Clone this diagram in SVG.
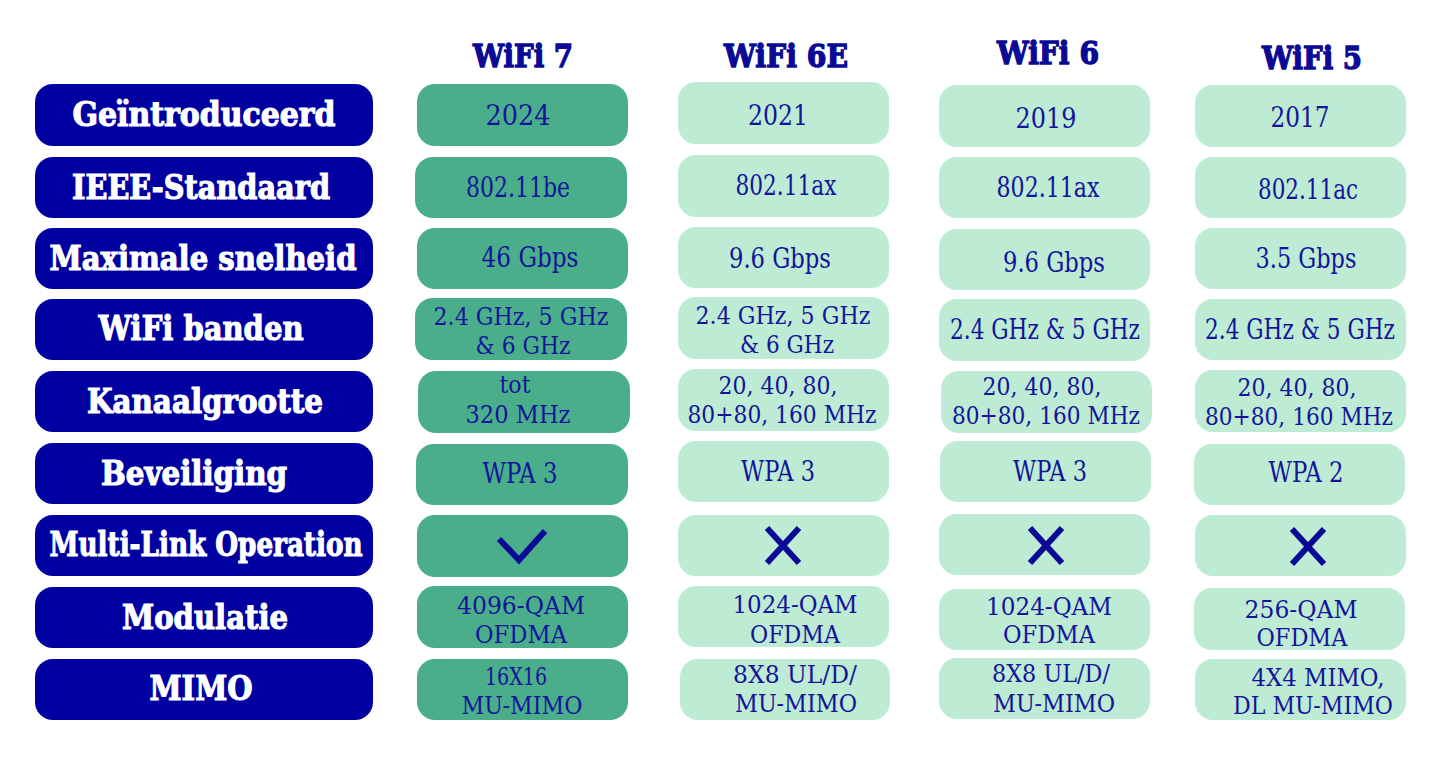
<svg xmlns="http://www.w3.org/2000/svg" width="1440" height="769" viewBox="0 0 1440 769">
<style>
.lbl{fill:#0000a0}
.dk{fill:#4aae8a}
.lt{fill:#bdebd4}
.ht{font-family:"DejaVu Serif","Liberation Serif",serif;font-weight:bold;font-size:32px;fill:#0a0a96;stroke:#0a0a96;stroke-width:1.4;text-anchor:middle}
.lt-t{font-family:"DejaVu Serif","Liberation Serif",serif;font-weight:bold;font-size:33px;fill:#ffffff;stroke:#ffffff;stroke-width:1.2;text-anchor:middle}
.v{font-family:"DejaVu Serif","Liberation Serif",serif;font-size:27px;fill:#14149a;text-anchor:middle}
.v2{font-family:"DejaVu Serif","Liberation Serif",serif;font-size:25px;fill:#14149a;text-anchor:middle}
.mk{stroke:#0a0a96;stroke-width:6;fill:none}
</style>
<rect width="1440" height="769" fill="#ffffff"/>
<g id="headers">
<text class="ht" x="523" y="67" textLength="100" lengthAdjust="spacingAndGlyphs">WiFi 7</text>
<text class="ht" x="786" y="67" textLength="124" lengthAdjust="spacingAndGlyphs">WiFi 6E</text>
<text class="ht" x="1048" y="64" textLength="102" lengthAdjust="spacingAndGlyphs">WiFi 6</text>
<text class="ht" x="1312" y="69" textLength="100" lengthAdjust="spacingAndGlyphs">WiFi 5</text>
</g>
<g id="labels">
<g id="lbl-1"><rect class="lbl" x="35" y="84" width="338" height="62" rx="18"/><text class="lt-t" x="204" y="126" textLength="263" lengthAdjust="spacingAndGlyphs">Geïntroduceerd</text></g>
<g id="lbl-2"><rect class="lbl" x="35" y="157" width="338" height="61" rx="18"/><text class="lt-t" x="201" y="199" textLength="258" lengthAdjust="spacingAndGlyphs">IEEE-Standaard</text></g>
<g id="lbl-3"><rect class="lbl" x="35" y="228" width="338" height="61" rx="18"/><text class="lt-t" x="203" y="270" textLength="307" lengthAdjust="spacingAndGlyphs">Maximale snelheid</text></g>
<g id="lbl-4"><rect class="lbl" x="35" y="299" width="338" height="61" rx="18"/><text class="lt-t" x="201" y="340" textLength="205" lengthAdjust="spacingAndGlyphs">WiFi banden</text></g>
<g id="lbl-5"><rect class="lbl" x="35" y="371" width="338" height="61" rx="18"/><text class="lt-t" x="205" y="413" textLength="236" lengthAdjust="spacingAndGlyphs">Kanaalgrootte</text></g>
<g id="lbl-6"><rect class="lbl" x="35" y="443" width="338" height="61" rx="18"/><text class="lt-t" x="194" y="485" textLength="186" lengthAdjust="spacingAndGlyphs">Beveiliging</text></g>
<g id="lbl-7"><rect class="lbl" x="35" y="515" width="338" height="61" rx="18"/><text class="lt-t" x="206" y="556" textLength="313" lengthAdjust="spacingAndGlyphs">Multi-Link Operation</text></g>
<g id="lbl-8"><rect class="lbl" x="35" y="587" width="338" height="61" rx="18"/><text class="lt-t" x="205" y="629" textLength="166" lengthAdjust="spacingAndGlyphs">Modulatie</text></g>
<g id="lbl-9"><rect class="lbl" x="35" y="659" width="338" height="61" rx="18"/><text class="lt-t" x="201" y="700" textLength="103" lengthAdjust="spacingAndGlyphs">MIMO</text></g>
</g>
<g id="wifi7">
<g id="w7-1"><rect class="dk" x="417" y="84" width="211" height="62" rx="18"/><text class="v" x="518" y="125" textLength="65" lengthAdjust="spacingAndGlyphs">2024</text></g>
<g id="w7-2"><rect class="dk" x="415" y="157" width="212" height="61" rx="18"/><text class="v" x="518" y="197" textLength="104" lengthAdjust="spacingAndGlyphs">802.11be</text></g>
<g id="w7-3"><rect class="dk" x="417" y="228" width="211" height="61" rx="18"/><text class="v" x="530" y="267" textLength="97" lengthAdjust="spacingAndGlyphs">46 Gbps</text></g>
<g id="w7-4"><rect class="dk" x="415" y="298" width="212" height="62" rx="18"/><text class="v2" x="521" y="325" textLength="175" lengthAdjust="spacingAndGlyphs">2.4 GHz, 5 GHz</text><text class="v2" x="523" y="354" textLength="95" lengthAdjust="spacingAndGlyphs">&amp; 6 GHz</text></g>
<g id="w7-5"><rect class="dk" x="418" y="371" width="212" height="62" rx="18"/><text class="v2" x="515" y="393" textLength="31" lengthAdjust="spacingAndGlyphs">tot</text><text class="v2" x="518" y="423" textLength="105" lengthAdjust="spacingAndGlyphs">320 MHz</text></g>
<g id="w7-6"><rect class="dk" x="416" y="444" width="212" height="61" rx="18"/><text class="v" x="520" y="483" textLength="75" lengthAdjust="spacingAndGlyphs">WPA 3</text></g>
<g id="w7-7"><rect class="dk" x="417" y="515" width="211" height="62" rx="18"/><path class="mk" d="M499 539 L519 560 L545 531"/></g>
<g id="w7-8"><rect class="dk" x="417" y="586" width="211" height="62" rx="18"/><text class="v2" x="521" y="614" textLength="128" lengthAdjust="spacingAndGlyphs">4096-QAM</text><text class="v2" x="521" y="643" textLength="92" lengthAdjust="spacingAndGlyphs">OFDMA</text></g>
<g id="w7-9"><rect class="dk" x="417" y="659" width="211" height="61" rx="18"/><text class="v2" x="516" y="685" textLength="62" lengthAdjust="spacingAndGlyphs">16X16</text><text class="v2" x="522" y="714" textLength="121" lengthAdjust="spacingAndGlyphs">MU-MIMO</text></g>
</g>
<g id="wifi6e">
<g id="w6e-1"><rect class="lt" x="678" y="82" width="211" height="62" rx="18"/><text class="v" x="778" y="125" textLength="60" lengthAdjust="spacingAndGlyphs">2021</text></g>
<g id="w6e-2"><rect class="lt" x="678" y="155" width="211" height="62" rx="18"/><text class="v" x="786" y="195" textLength="101" lengthAdjust="spacingAndGlyphs">802.11ax</text></g>
<g id="w6e-3"><rect class="lt" x="678" y="227" width="211" height="61" rx="18"/><text class="v" x="780" y="268" textLength="102" lengthAdjust="spacingAndGlyphs">9.6 Gbps</text></g>
<g id="w6e-4"><rect class="lt" x="678" y="297" width="211" height="62" rx="18"/><text class="v2" x="783" y="324" textLength="175" lengthAdjust="spacingAndGlyphs">2.4 GHz, 5 GHz</text><text class="v2" x="787" y="353" textLength="94" lengthAdjust="spacingAndGlyphs">&amp; 6 GHz</text></g>
<g id="w6e-5"><rect class="lt" x="678" y="369" width="211" height="62" rx="18"/><text class="v2" x="778" y="394" textLength="119" lengthAdjust="spacingAndGlyphs">20, 40, 80,</text><text class="v2" x="782" y="423" textLength="189" lengthAdjust="spacingAndGlyphs">80+80, 160 MHz</text></g>
<g id="w6e-6"><rect class="lt" x="678" y="441" width="211" height="61" rx="18"/><text class="v" x="778" y="481" textLength="74" lengthAdjust="spacingAndGlyphs">WPA 3</text></g>
<g id="w6e-7"><rect class="lt" x="678" y="515" width="211" height="61" rx="18"/><path class="mk" d="M767 528 L799 563 M799 528 L767 563"/></g>
<g id="w6e-8"><rect class="lt" x="678" y="586" width="211" height="61" rx="18"/><text class="v2" x="795" y="613" textLength="125" lengthAdjust="spacingAndGlyphs">1024-QAM</text><text class="v2" x="795" y="643" textLength="90" lengthAdjust="spacingAndGlyphs">OFDMA</text></g>
<g id="w6e-9"><rect class="lt" x="680" y="659" width="210" height="61" rx="18"/><text class="v2" x="795" y="683" textLength="124" lengthAdjust="spacingAndGlyphs">8X8 UL/D/</text><text class="v2" x="796" y="712" textLength="122" lengthAdjust="spacingAndGlyphs">MU-MIMO</text></g>
</g>
<g id="wifi6">
<g id="w6-1"><rect class="lt" x="939" y="85" width="211" height="62" rx="18"/><text class="v" x="1046" y="128" textLength="61" lengthAdjust="spacingAndGlyphs">2019</text></g>
<g id="w6-2"><rect class="lt" x="939" y="157" width="211" height="61" rx="18"/><text class="v" x="1048" y="197" textLength="103" lengthAdjust="spacingAndGlyphs">802.11ax</text></g>
<g id="w6-3"><rect class="lt" x="939" y="229" width="211" height="61" rx="18"/><text class="v" x="1054" y="272" textLength="102" lengthAdjust="spacingAndGlyphs">9.6 Gbps</text></g>
<g id="w6-4"><rect class="lt" x="939" y="299" width="211" height="62" rx="18"/><text class="v" x="1045" y="339" textLength="190" lengthAdjust="spacingAndGlyphs">2.4 GHz &amp; 5 GHz</text></g>
<g id="w6-5"><rect class="lt" x="941" y="371" width="211" height="62" rx="18"/><text class="v2" x="1042" y="395" textLength="119" lengthAdjust="spacingAndGlyphs">20, 40, 80,</text><text class="v2" x="1046" y="424" textLength="188" lengthAdjust="spacingAndGlyphs">80+80, 160 MHz</text></g>
<g id="w6-6"><rect class="lt" x="940" y="441" width="211" height="61" rx="18"/><text class="v" x="1050" y="481" textLength="74" lengthAdjust="spacingAndGlyphs">WPA 3</text></g>
<g id="w6-7"><rect class="lt" x="939" y="514" width="211" height="61" rx="18"/><path class="mk" d="M1030 528 L1062 563 M1062 528 L1030 563"/></g>
<g id="w6-8"><rect class="lt" x="939" y="589" width="211" height="61" rx="18"/><text class="v2" x="1049" y="615" textLength="126" lengthAdjust="spacingAndGlyphs">1024-QAM</text><text class="v2" x="1049" y="643" textLength="92" lengthAdjust="spacingAndGlyphs">OFDMA</text></g>
<g id="w6-9"><rect class="lt" x="939" y="658" width="211" height="61" rx="18"/><text class="v2" x="1051" y="682" textLength="118" lengthAdjust="spacingAndGlyphs">8X8 UL/D/</text><text class="v2" x="1054" y="712" textLength="122" lengthAdjust="spacingAndGlyphs">MU-MIMO</text></g>
</g>
<g id="wifi5">
<g id="w5-1"><rect class="lt" x="1195" y="85" width="211" height="62" rx="18"/><text class="v" x="1300" y="127" textLength="59" lengthAdjust="spacingAndGlyphs">2017</text></g>
<g id="w5-2"><rect class="lt" x="1195" y="157" width="211" height="61" rx="18"/><text class="v" x="1308" y="199" textLength="100" lengthAdjust="spacingAndGlyphs">802.11ac</text></g>
<g id="w5-3"><rect class="lt" x="1195" y="228" width="211" height="61" rx="18"/><text class="v" x="1306" y="268" textLength="101" lengthAdjust="spacingAndGlyphs">3.5 Gbps</text></g>
<g id="w5-4"><rect class="lt" x="1195" y="299" width="211" height="61" rx="18"/><text class="v" x="1300" y="339" textLength="190" lengthAdjust="spacingAndGlyphs">2.4 GHz &amp; 5 GHz</text></g>
<g id="w5-5"><rect class="lt" x="1195" y="370" width="211" height="62" rx="18"/><text class="v2" x="1297" y="396" textLength="119" lengthAdjust="spacingAndGlyphs">20, 40, 80,</text><text class="v2" x="1299" y="425" textLength="188" lengthAdjust="spacingAndGlyphs">80+80, 160 MHz</text></g>
<g id="w5-6"><rect class="lt" x="1194" y="444" width="211" height="61" rx="18"/><text class="v" x="1306" y="482" textLength="75" lengthAdjust="spacingAndGlyphs">WPA 2</text></g>
<g id="w5-7"><rect class="lt" x="1195" y="515" width="211" height="61" rx="18"/><path class="mk" d="M1292 529 L1324 564 M1324 529 L1292 564"/></g>
<g id="w5-8"><rect class="lt" x="1194" y="588" width="211" height="62" rx="18"/><text class="v2" x="1301" y="618" textLength="113" lengthAdjust="spacingAndGlyphs">256-QAM</text><text class="v2" x="1302" y="646" textLength="91" lengthAdjust="spacingAndGlyphs">OFDMA</text></g>
<g id="w5-9"><rect class="lt" x="1195" y="659" width="211" height="61" rx="18"/><text class="v2" x="1318" y="686" textLength="133" lengthAdjust="spacingAndGlyphs">4X4 MIMO,</text><text class="v2" x="1313" y="714" textLength="160" lengthAdjust="spacingAndGlyphs">DL MU-MIMO</text></g>
</g>
<g id="connectors"></g>
</svg>
